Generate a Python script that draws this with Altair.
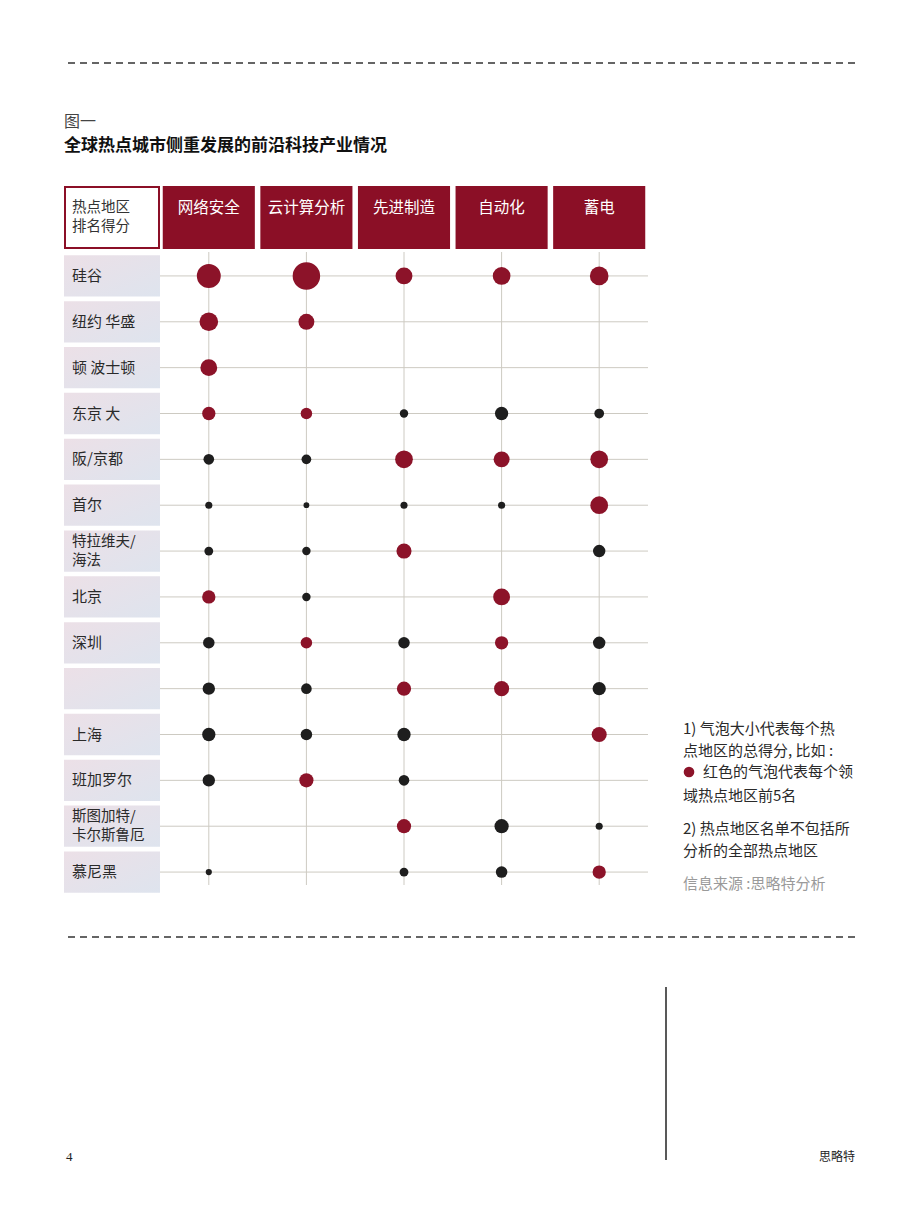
import altair as alt
import pandas as pd

# ---------------- data ----------------
techs = ["网络安全", "云计算分析", "先进制造", "自动化", "蓄电"]
cities = ["硅谷", "纽约  华盛", "顿  波士顿", "东京  大", "阪/京都", "首尔",
          "特拉维夫/\n海法", "北京", "深圳", "", "上海", "班加罗尔",
          "斯图加特/\n卡尔斯鲁厄", "慕尼黑"]

# bubble score (read as bubble diameter), None = no bubble
score_net = [27, 21, 19, 15, 12, 8, 10, 15, 13, 14, 15, 14, None, 7]
score_cloud = [31, 18, None, 13, 11, 6.5, 9.5, 9.5, 13, 12, 13, 16, None, None]
score_mfg = [19, None, None, 9.5, 20, 8, 17, None, 13, 16, 15, 12, 16, 10]
score_auto = [20, None, None, 15, 18, 8, None, 19, 15, 17, None, None, 16, 13]
score_batt = [21, None, None, 11, 20, 20, 14, None, 14, 15, 17, None, 8, 15]

# 1 = top-5 in that field (red bubble)
top_net = [1, 1, 1, 1, 0, 0, 0, 1, 0, 0, 0, 0, 0, 0]
top_cloud = [1, 1, 0, 1, 0, 0, 0, 0, 1, 0, 0, 1, 0, 0]
top_mfg = [1, 0, 0, 0, 1, 0, 1, 0, 0, 1, 0, 0, 1, 0]
top_auto = [1, 0, 0, 0, 1, 0, 0, 1, 1, 1, 0, 0, 0, 0]
top_batt = [1, 0, 0, 0, 1, 1, 0, 0, 0, 0, 1, 0, 0, 1]

title_small = "图一"
title_main = "全球热点城市侧重发展的前沿科技产业情况"
corner_label = "热点地区\n排名得分"
notes = ["1) 气泡大小代表每个热", "点地区的总得分, 比如 :", "红色的气泡代表每个领",
         "域热点地区前5名", "2) 热点地区名单不包括所", "分析的全部热点地区"]
source = "信息来源 :思略特分析"

RED = "#8B0F26"
BUB_RED = "#8C1329"
BLACK = "#1E1E1E"
GRID = "#CDCAC2"
FONT = "Noto Sans CJK SC"

row_keys = [f"r{i:02d}" for i in range(len(cities))]

recs = []
for t, sc, tp in zip(techs,
                     [score_net, score_cloud, score_mfg, score_auto, score_batt],
                     [top_net, top_cloud, top_mfg, top_auto, top_batt]):
    for k, s, r in zip(row_keys, sc, tp):
        if s is None:
            continue
        recs.append({"tech": t, "row": k, "score": s, "grp": "top5" if r else "other"})
bubbles = pd.DataFrame(recs)
rows_df = pd.DataFrame({"row": row_keys, "label": cities})
rows_df["two"] = rows_df["label"].str.contains("\n")
tech_df = pd.DataFrame({"tech": techs})
one = pd.DataFrame({"a": [0]})

xs = alt.Scale(type="band", domain=techs, paddingInner=0.0564, paddingOuter=0.0282)
ys = alt.Scale(type="band", domain=row_keys, paddingInner=0.1, paddingOuter=0.05)

# row label cells
cells = alt.Chart(rows_df).mark_rect(
    color=alt.LinearGradient(gradient="linear",
                             stops=[alt.GradientStop(color="#ECE0E7", offset=0),
                                    alt.GradientStop(color="#DEE4EE", offset=1)],
                             x1=0, x2=1, y1=0, y2=1)
).encode(
    y=alt.Y("row:N", scale=ys, axis=None),
    x=alt.value(-96), x2=alt.value(0)
)

# grid lines
hgrid = alt.Chart(rows_df).mark_rule(color=GRID, strokeWidth=1).encode(
    y=alt.Y("row:N", scale=ys, axis=None, bandPosition=0.5),
    x=alt.value(0), x2=alt.value(488)
)
vgrid = alt.Chart(tech_df).mark_rule(color=GRID, strokeWidth=1).encode(
    x=alt.X("tech:N", scale=xs, axis=None, bandPosition=0.5),
    y=alt.value(-1), y2=alt.value(632)
)

row_text1 = alt.Chart(rows_df).transform_filter("!datum.two").mark_text(
    align="left", baseline="middle", font=FONT, fontSize=15, color="#2A2A2A"
).encode(
    y=alt.Y("row:N", scale=ys, axis=None),
    x=alt.value(-88),
    text="label:N"
)
row_text2 = alt.Chart(rows_df).transform_filter("datum.two").mark_text(
    align="left", baseline="middle", font=FONT, fontSize=14.5, color="#2A2A2A",
    lineBreak="\n", lineHeight=19, dy=-9.5
).encode(
    y=alt.Y("row:N", scale=ys, axis=None),
    x=alt.value(-88),
    text="label:N"
)

# bubbles
bub = alt.Chart(bubbles).mark_circle(opacity=1).encode(
    x=alt.X("tech:N", scale=xs, axis=None),
    y=alt.Y("row:N", scale=ys, axis=None),
    size=alt.Size("score:Q", scale=alt.Scale(type="pow", exponent=2, domain=[0, 31],
                                              range=[0, 755]), legend=None),
    color=alt.Color("grp:N", scale=alt.Scale(domain=["top5", "other"],
                                             range=[BUB_RED, BLACK]), legend=None)
)

# header
head_rect = alt.Chart(tech_df).mark_rect(color=RED).encode(
    x=alt.X("tech:N", scale=xs, axis=None),
    y=alt.value(-67), y2=alt.value(-4)
)
head_text = alt.Chart(tech_df).mark_text(
    font=FONT, fontSize=15.5, color="white", baseline="middle"
).encode(
    x=alt.X("tech:N", scale=xs, axis=None),
    y=alt.value(-45),
    text="tech:N"
)
corner_box = alt.Chart(one).mark_rect(fill="white", stroke=RED, strokeWidth=2).encode(
    x=alt.value(-95), x2=alt.value(-1), y=alt.value(-66), y2=alt.value(-5)
)
corner_text = alt.Chart(one).mark_text(
    font=FONT, fontSize=14.5, color="#333333", align="left", baseline="middle",
    lineBreak="\n", lineHeight=19
).encode(x=alt.value(-88), y=alt.value(-45.5), text=alt.value(corner_label))

# titles
t1 = alt.Chart(one).mark_text(font=FONT, fontSize=16, color="#444444", align="left",
                              baseline="middle").encode(
    x=alt.value(-96), y=alt.value(-131), text=alt.value(title_small))
t2 = alt.Chart(one).mark_text(font=FONT, fontSize=17, fontWeight="bold", color="#111111",
                              align="left", baseline="middle").encode(
    x=alt.value(-96), y=alt.value(-107), text=alt.value(title_main))

# notes
note_y = [476, 497.5, 519, 543, 576, 598]
note_x = [523, 523, 543, 523, 523, 523]
note_layers = []
for txt, nx, ny in zip(notes, note_x, note_y):
    note_layers.append(
        alt.Chart(one).mark_text(font=FONT, fontSize=15, color="#2A2A2A", align="left",
                                 baseline="middle").encode(
            x=alt.value(nx), y=alt.value(ny), text=alt.value(txt)))
src = alt.Chart(one).mark_text(font=FONT, fontSize=15, color="#9A9A9A", align="left",
                               baseline="middle").encode(
    x=alt.value(523), y=alt.value(631), text=alt.value(source))
note_dot = alt.Chart(one).mark_circle(color=BUB_RED, opacity=1, size=113).encode(
    x=alt.value(529), y=alt.value(519))

# page decorations
dash_top = alt.Chart(one).mark_rule(color="#333333", strokeWidth=1.5, strokeDash=[7, 5]).encode(
    x=alt.value(-92), x2=alt.value(695), y=alt.value(-190))
dash_bot = alt.Chart(one).mark_rule(color="#333333", strokeWidth=1.5, strokeDash=[7, 5]).encode(
    x=alt.value(-92), x2=alt.value(695), y=alt.value(684))
vline = alt.Chart(one).mark_rule(color="#222222", strokeWidth=1.5).encode(
    x=alt.value(506), y=alt.value(734), y2=alt.value(907))
page_no = alt.Chart(one).mark_text(font="Liberation Sans Narrow", fontSize=13, color="#222222",
                                   align="left", baseline="middle").encode(
    x=alt.value(-94), y=alt.value(904), text=alt.value("4"))
brand = alt.Chart(one).mark_text(font=FONT, fontSize=12, color="#222222",
                                 align="right", baseline="middle").encode(
    x=alt.value(695), y=alt.value(904), text=alt.value("思略特"))

chart = alt.layer(
    cells, hgrid, vgrid, bub, row_text1, row_text2, head_rect, head_text, corner_box,
    corner_text, t1, t2, *note_layers, src, note_dot, dash_top, dash_bot, vline,
    page_no, brand
).properties(
    width=488, height=642,
    autosize=alt.AutoSizeParams(type="none"),
    padding={"left": 160, "top": 253, "right": 272, "bottom": 330},
    background="white"
).configure_view(stroke=None)

chart.save("out.html", embed_options={"renderer": "svg", "actions": False})
